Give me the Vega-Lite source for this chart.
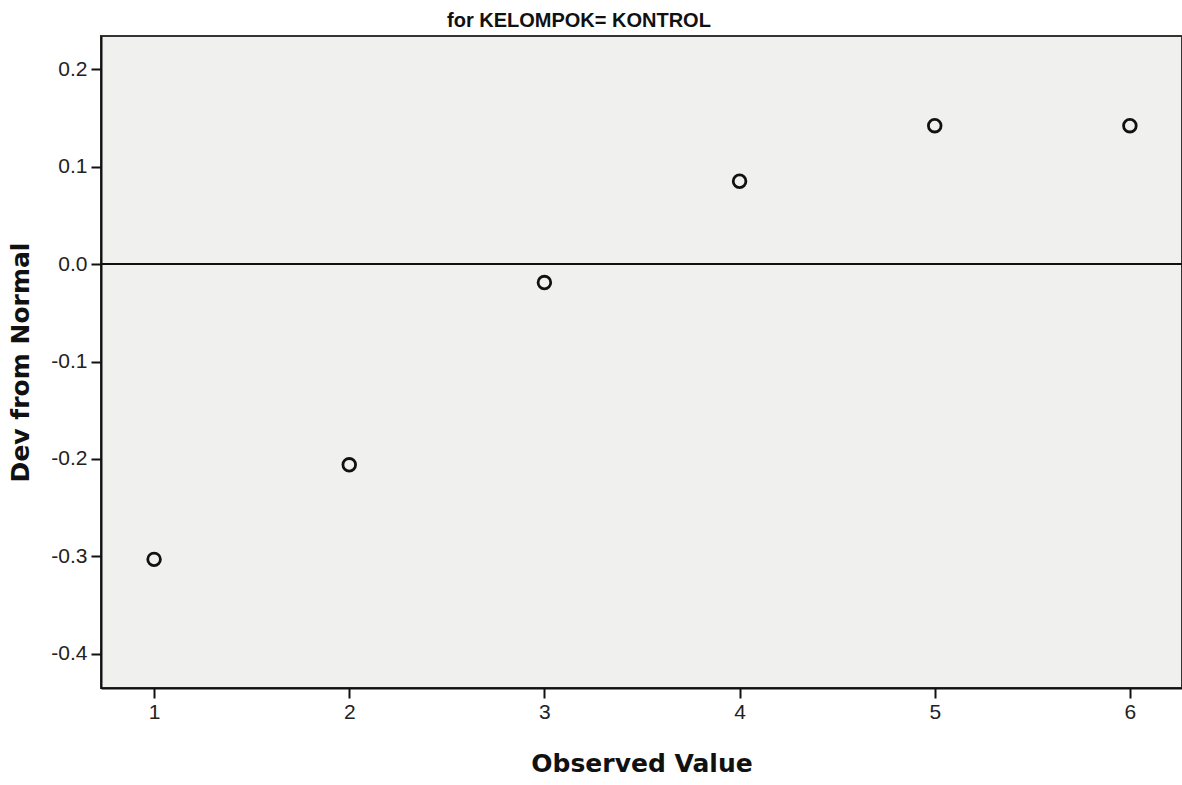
{
  "$schema": "https://vega.github.io/schema/vega-lite/v6.json",
  "autosize": {"type": "none"},
  "padding": {"left": 101, "top": 36, "right": 0, "bottom": 97},
  "width": 1081,
  "height": 652,
  "background": "#ffffff",
  "title": {
    "text": "for KELOMPOK= KONTROL",
    "anchor": "start",
    "frame": "group",
    "dx": 346,
    "offset": 5,
    "font": "Liberation Sans",
    "fontSize": 20,
    "fontWeight": "bold",
    "color": "#111111"
  },
  "config": {
    "view": {"fill": "#f0f0ee", "stroke": "#333333", "strokeWidth": 2},
    "axis": {
      "grid": false,
      "domainColor": "#111111",
      "domainWidth": 2,
      "tickColor": "#111111",
      "tickWidth": 2,
      "tickSize": 10,
      "labelFont": "Liberation Sans",
      "labelFontSize": 21,
      "labelColor": "#222222",
      "titleFont": "DejaVu Sans",
      "titleFontWeight": "bold",
      "titleFontSize": 25,
      "titleColor": "#111111"
    }
  },
  "data": {
    "values": [
      {"observed": 1, "dev": -0.303},
      {"observed": 2, "dev": -0.206},
      {"observed": 3, "dev": -0.019},
      {"observed": 4, "dev": 0.085},
      {"observed": 5, "dev": 0.142},
      {"observed": 6, "dev": 0.142}
    ]
  },
  "layer": [
    {
      "data": {"values": [{"ref": 0}]},
      "mark": {"type": "rule", "color": "#111111", "strokeWidth": 2},
      "encoding": {"y": {"field": "ref", "type": "quantitative"}}
    },
    {
      "mark": {"type": "point", "shape": "circle", "filled": false, "size": 160, "strokeWidth": 2.8, "color": "#111111", "opacity": 1},
      "encoding": {
        "x": {
          "field": "observed",
          "type": "quantitative",
          "title": "Observed Value",
          "scale": {"domain": [0.728, 6.267], "nice": false, "zero": false},
          "axis": {"values": [1, 2, 3, 4, 5, 6], "format": "d", "labelPadding": 3, "titlePadding": 29}
        },
        "y": {
          "field": "dev",
          "type": "quantitative",
          "title": "Dev from Normal",
          "scale": {"domain": [-0.435, 0.234], "nice": false, "zero": false},
          "axis": {"values": [-0.4, -0.3, -0.2, -0.1, 0, 0.1, 0.2], "labelExpr": "replace(format(datum.value, '.1f'), '\u2212', '-')", "labelPadding": 4, "titlePadding": 17}
        }
      }
    }
  ]
}
